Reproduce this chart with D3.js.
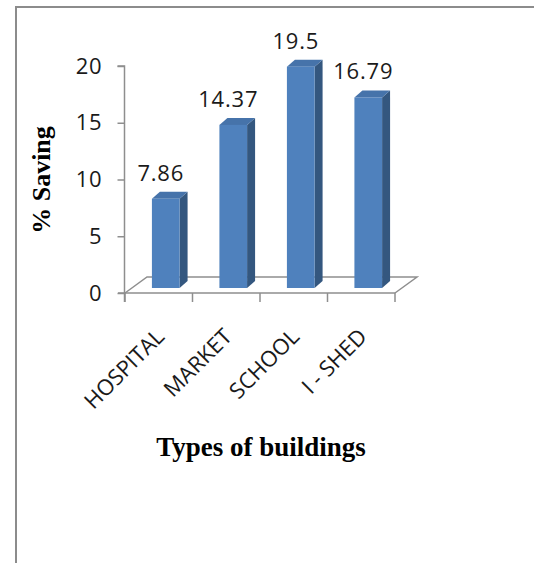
<!DOCTYPE html>
<html>
<head>
<meta charset="utf-8">
<script src="https://cdn.jsdelivr.net/npm/d3@7"></script>
<style>
  html, body { margin: 0; padding: 0; background: #fff; }
  svg { display: block; }
</style>
</head>
<body>
<svg id="chart" width="534" height="563"></svg>
<script>
// Percentage saving per building type
const categories = ["HOSPITAL", "MARKET", "SCHOOL", "I - SHED"];
const savings = [7.86, 14.37, 19.5, 16.79];
const yTicks = [0, 5, 10, 15, 20];

const svg = d3.select("#chart");
const numFont = "Open Sans, Lato, sans-serif";
const titleFont = "Liberation Serif, Times New Roman, serif";

// frame around the chart area
svg.append("path")
  .attr("d", "M16,563 L16,7 L534,7")
  .attr("fill", "none")
  .attr("stroke", "#8c8c8c")
  .attr("stroke-width", 2);

const x = d3.scaleBand().domain(categories).range([125, 395]);
const y = d3.scaleLinear().domain([0, 20]).range([293, 66]);

// 3D offsets: floor depth, bar placement within depth, bar thickness
const floorDx = 22, floorDy = -16;
const barOffX = 7, barOffY = -5;
const sideDx = 8, sideDy = -7;
const axisColor = "#8e8e8e";

// floor outline
const x0 = x.range()[0], x1 = x.range()[1], yb = y(0);
svg.append("path")
  .attr("d", `M${x0},${yb} L${x0 + floorDx},${yb + floorDy} L${x1 + floorDx},${yb + floorDy} L${x1},${yb}`)
  .attr("fill", "none")
  .attr("stroke", axisColor)
  .attr("stroke-width", 1.5);

// bars
const bw = x.bandwidth() * 0.41;
const bars = svg.append("g");
categories.forEach((c, i) => {
  const v = savings[i];
  const cx = x(c) + x.bandwidth() / 2 + barOffX;
  const left = cx - bw / 2, right = cx + bw / 2;
  const top = y(v) + barOffY, bottom = y(0) + barOffY;
  // side face
  bars.append("path")
    .attr("d", `M${right},${bottom} L${right},${top} L${right + sideDx},${top + sideDy} L${right + sideDx},${bottom + sideDy} Z`)
    .attr("fill", "#34577f");
  // top face
  bars.append("path")
    .attr("d", `M${left},${top} L${right},${top} L${right + sideDx},${top + sideDy} L${left + sideDx},${top + sideDy} Z`)
    .attr("fill", "#4673aa");
  // front face
  bars.append("rect")
    .attr("x", left).attr("y", top)
    .attr("width", bw).attr("height", bottom - top)
    .attr("fill", "#4f81bd");
  // value label
  svg.append("text")
    .attr("x", x(c) + x.bandwidth() / 2 + 2)
    .attr("y", top - 18)
    .attr("text-anchor", "middle")
    .attr("font-family", numFont)
    .attr("font-size", 22)
    .attr("letter-spacing", 0.8)
    .attr("fill", "#1a1a1a")
    .text(String(v));
});

// value axis
const yAxis = svg.append("g")
  .attr("transform", `translate(${x0 - 0.5},0)`)
  .call(d3.axisLeft(y).tickValues(yTicks).tickSize(7).tickPadding(15));
yAxis.select(".domain").attr("stroke", axisColor).attr("stroke-width", 1.5)
  .attr("d", `M-7,${y(20)}H0V${y(0) + 9}`);
yAxis.selectAll(".tick line").attr("stroke", axisColor).attr("stroke-width", 1.5);
yAxis.selectAll(".tick text")
  .attr("font-family", numFont).attr("font-size", 22).attr("letter-spacing", 0.8)
  .attr("fill", "#1a1a1a");

// category axis along the floor front edge
const xAxis = svg.append("g")
  .attr("transform", `translate(0,${yb})`);
xAxis.append("path")
  .attr("d", `M${x0 - 7},0H${x1}`)
  .attr("stroke", axisColor).attr("stroke-width", 1.5);
xAxis.selectAll("line.tk")
  .data(categories.map(c => x(c)).concat([x1]))
  .join("line")
  .attr("class", "tk")
  .attr("x1", d => d).attr("x2", d => d)
  .attr("y1", 0).attr("y2", 9)
  .attr("stroke", axisColor).attr("stroke-width", 1.5);

// rotated category labels
svg.append("g").selectAll("text")
  .data(categories)
  .join("text")
  .attr("transform", d => `translate(${x(d) + x.bandwidth() / 2 + 7},338) rotate(-45)`)
  .attr("text-anchor", "end")
  .attr("font-family", numFont)
  .attr("font-size", 22)
  .attr("fill", "#1a1a1a")
  .text(d => d);

// axis titles
svg.append("text")
  .attr("transform", "translate(50,180) rotate(-90)")
  .attr("text-anchor", "middle")
  .attr("font-family", titleFont)
  .attr("font-weight", "bold")
  .attr("font-size", 26)
  .attr("fill", "#000")
  .text("% Saving");

svg.append("text")
  .attr("x", 261).attr("y", 456)
  .attr("text-anchor", "middle")
  .attr("font-family", titleFont)
  .attr("font-weight", "bold")
  .attr("font-size", 27)
  .attr("fill", "#000")
  .text("Types of buildings");
</script>
</body>
</html>
